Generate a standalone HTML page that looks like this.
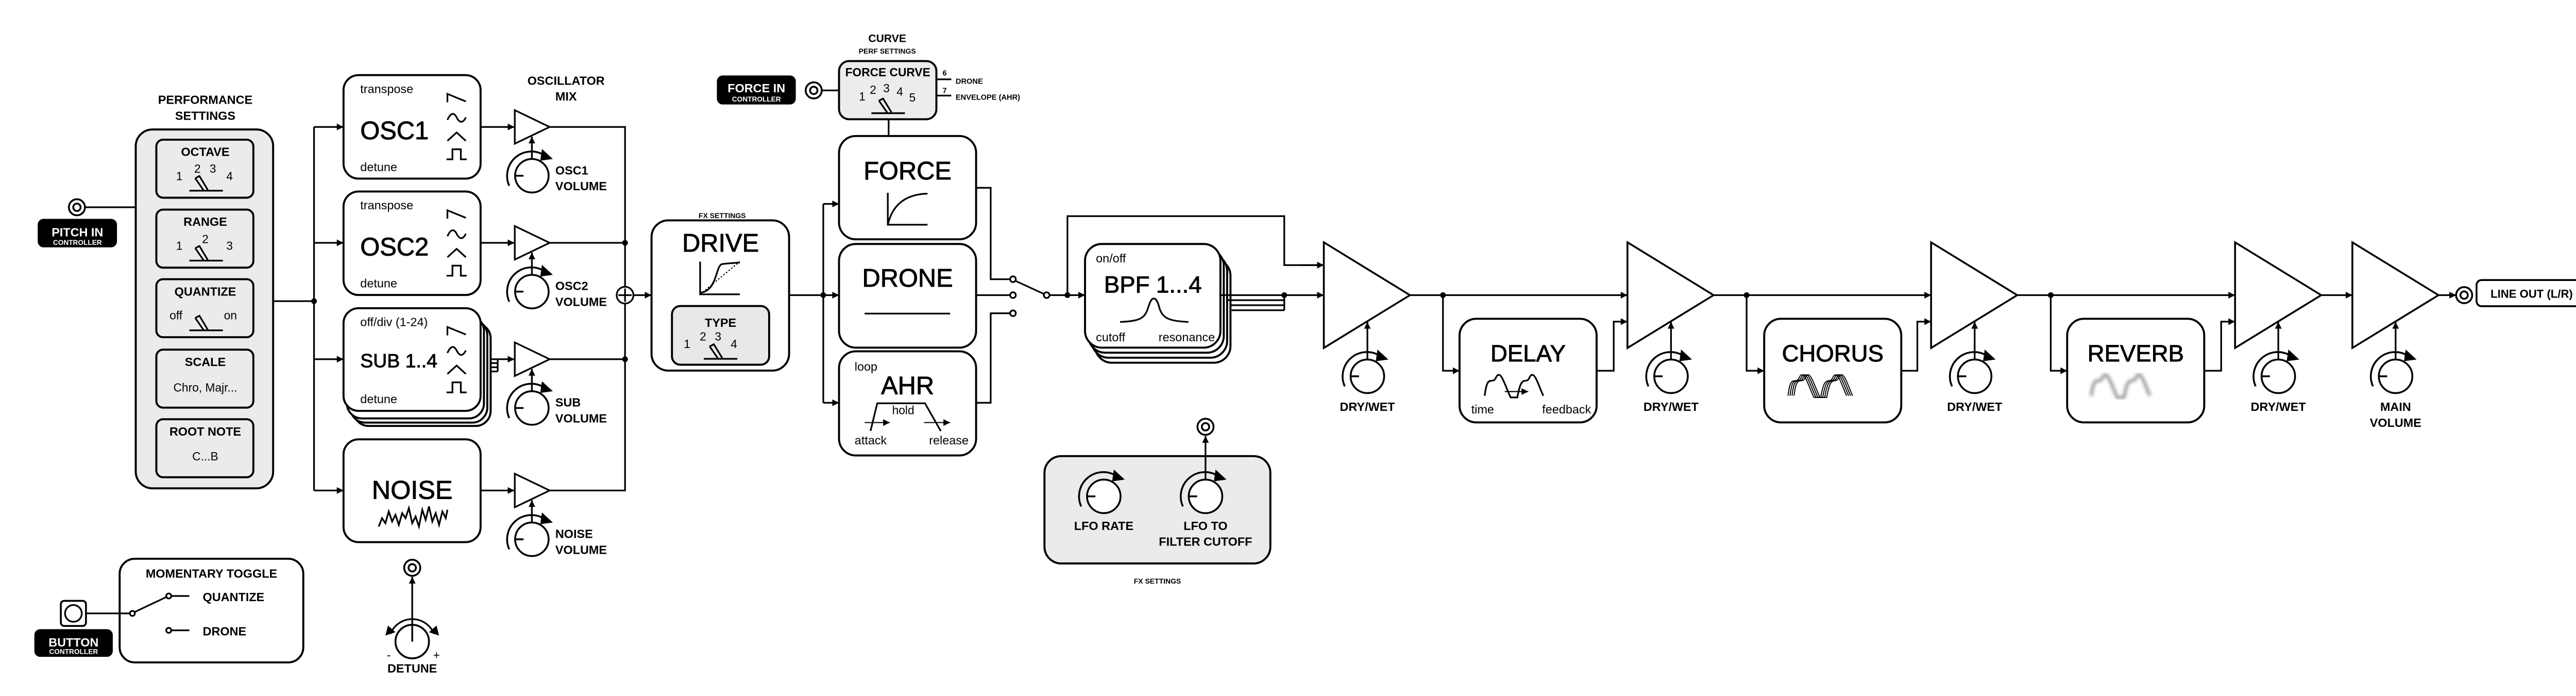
<!DOCTYPE html>
<html><head><meta charset="utf-8"><style>
html,body{margin:0;padding:0;background:#fff;}
svg{display:block;}
text{font-family:"Liberation Sans","DejaVu Sans",sans-serif;fill:#000;}
.b{font-weight:bold;}
.t{stroke:#000;stroke-width:0.3;}
</style></head><body>
<svg xmlns="http://www.w3.org/2000/svg" xmlns:xlink="http://www.w3.org/1999/xlink" width="5100" height="1350" viewBox="0 0 1568 415.05">
<defs>
<marker id="a" viewBox="0 0 10 10" refX="10" refY="5" markerWidth="4.5" markerHeight="4" markerUnits="userSpaceOnUse" orient="auto"><path d="M0,0 L10,5 L0,10 z" fill="#000"/></marker>
<g id="knob" fill="none" stroke="#000" stroke-width="1.1">
<circle r="10" fill="#fff"/>
<path d="M-10,0 H-5"/>
<path d="M-13.5,6 A14.5,14.5 0 0 1 7,-12.5"/>
<polygon points="6,-16 12.5,-10 5,-9" fill="#000" stroke="none"/>
</g>
<g id="jack" fill="#fff" stroke="#000" stroke-width="1.1"><circle r="4.8"/><circle r="2.2"/></g>
<filter id="bl"><feGaussianBlur stdDeviation="1"/></filter>
</defs>

<g fill="none" stroke="#000" stroke-width="1">

<rect x="81" y="77.2" width="82" height="214" rx="10" fill="#ebebeb" stroke-width="1.2"/>
<rect x="93.3" y="83.3" width="57.9" height="34.6" rx="4" fill="#ebebeb" stroke-width="1.2"/>
<rect x="93.3" y="125" width="57.9" height="34.6" rx="4" fill="#ebebeb" stroke-width="1.2"/>
<rect x="93.3" y="166.5" width="57.9" height="34.6" rx="4" fill="#ebebeb" stroke-width="1.2"/>
<rect x="93.3" y="208.5" width="57.9" height="34.6" rx="4" fill="#ebebeb" stroke-width="1.2"/>
<rect x="93.3" y="250" width="57.9" height="34.6" rx="4" fill="#ebebeb" stroke-width="1.2"/>
<path d="M113,113.7 H133 M116.5,106.3 L119,105 L124,113.2 M116.5,106.3 L121.5,113.5"/>
<path d="M113,155.4 H133 M116.5,148 L119,146.7 L124,155 M116.5,148 L121.5,155.2"/>
<path d="M113,197 H133 M116.5,189.6 L119,188.3 L124,196.6 M116.5,189.6 L121.5,196.8"/>
<path d="M50.7,123.6 H81"/>
<use xlink:href="#jack" x="45.9" y="123.6"/>
<rect x="23" y="131" width="46.3" height="16" rx="3" fill="#000"/>
<path d="M163,179.6 H187.4 M187.4,75.7 V292.5"/>
<path d="M187.4,75.7 H205" marker-end="url(#a)"/>
<path d="M187.4,144.8 H205" marker-end="url(#a)"/>
<path d="M187.4,214.2 H205" marker-end="url(#a)"/>
<path d="M187.4,292.5 H205" marker-end="url(#a)"/>
<circle cx="187.4" cy="179.6" r="1.2" fill="#000"/>

<rect x="205" y="44.8" width="81.8" height="61.7" rx="9" fill="#fff" stroke-width="1.2"/>
<rect x="205" y="114.2" width="81.8" height="61.7" rx="9" fill="#fff" stroke-width="1.2"/>
<rect x="211" y="192.8" width="81.8" height="61.2" rx="9" fill="#fff" stroke-width="1.2"/>
<rect x="209" y="190.8" width="81.8" height="61.2" rx="9" fill="#fff" stroke-width="1.2"/>
<rect x="207" y="188.3" width="81.8" height="61.2" rx="9" fill="#fff" stroke-width="1.2"/>
<rect x="205" y="183.8" width="81.8" height="61.2" rx="9" fill="#fff" stroke-width="1.2"/>
<rect x="205" y="262" width="81.8" height="61.3" rx="9" fill="#fff" stroke-width="1.2"/>
<g id="wf">
<path d="M267,61 V56 L278,60.5"/>
<path d="M267,71.5 C269,67 271,67 272.5,70 S276,74 278,70"/>
<path d="M267,84 L272.5,79 L278,84"/>
<path d="M266.5,95 H270 V89 H275 V95 H278.5"/>
</g>
<use xlink:href="#wf" y="69.4"/>
<use xlink:href="#wf" y="139"/>
<polyline points="226,314 228,309 230,312 232,305 234,311 236,307 238,313 240,306 242,309 244,303 246,312 248,308 250,314 252,304 254,310 256,302 258,311 260,306 262,313 264,305 266,309 267,304"/>

<path d="M286.8,75.7 H307" marker-end="url(#a)"/>
<path d="M286.8,144.8 H307" marker-end="url(#a)"/>
<path d="M292.8,214.2 H307" marker-end="url(#a)"/>
<path d="M292.8,216.5 H297 M292.8,219 H297 M292.8,221.5 H297 M297,214.2 V221.5"/>
<path d="M286.8,292.5 H307" marker-end="url(#a)"/>
<polygon points="307.2,65.7 307.2,85.7 328,75.7" fill="#fff"/>
<polygon points="307.2,134.8 307.2,154.8 328,144.8" fill="#fff"/>
<polygon points="307.2,204.2 307.2,224.2 328,214.2" fill="#fff"/>
<polygon points="307.2,282.5 307.2,302.5 328,292.5" fill="#fff"/>
<path d="M317.4,94.8 V81.5" marker-end="url(#a)"/>
<path d="M317.4,163.9 V150.6" marker-end="url(#a)"/>
<path d="M317.4,233.3 V220" marker-end="url(#a)"/>
<path d="M317.4,311.6 V298.3" marker-end="url(#a)"/>
<path d="M328,75.7 H373 V292.5 H328 M328,144.8 H373 M328,214.2 H373"/>
<circle cx="373" cy="144.8" r="1.2" fill="#000"/>
<circle cx="373" cy="214.2" r="1.2" fill="#000"/>
<circle cx="373" cy="176" r="5" fill="#fff"/>
<path d="M373,172 V180 M369,176 H377"/>
<path d="M378,176 H388.8" marker-end="url(#a)"/>

<rect x="71.4" y="333.2" width="109.6" height="61.8" rx="9" stroke-width="1.2"/>
<rect x="36.3" y="358.3" width="15" height="15" rx="2" fill="#fff" stroke-width="1.1"/>
<circle cx="43.8" cy="365.8" r="5"/>
<path d="M51.3,365.8 H77.5 M80.3,365 L99.3,356"/>
<circle cx="79" cy="365.8" r="1.5" fill="#fff"/>
<circle cx="100.7" cy="355.4" r="1.5" fill="#fff"/>
<circle cx="100.7" cy="375.9" r="1.5" fill="#fff"/>
<path d="M102.2,355.4 H113 M102.2,375.9 H113"/>
<rect x="21" y="375.7" width="45.8" height="15.5" rx="3" fill="#000"/>

<use xlink:href="#jack" x="246" y="338.6"/>
<path d="M246,382.6 V344" marker-end="url(#a)"/>
<circle cx="246" cy="382.6" r="10" fill="none" stroke-width="1.1"/>
<path d="M246,382.6 V372.6 M233,378 A14,14 0 0 1 259,378"/>
<polygon points="230,379 236,377 231.5,373" fill="#000" stroke="none"/>
<polygon points="262,379 256,377 260.5,373" fill="#000" stroke="none"/>

<rect x="388.8" y="131.4" width="82.1" height="89.6" rx="10" stroke-width="1.2"/>
<path d="M417.8,156 V175.5 H441.5"/>
<path d="M417.8,174.5 C428,174 427,158 431,157.5 C434,157 437,157 441.5,156.5"/>
<path d="M417.8,175.5 L441.5,156" stroke-dasharray="1,1" stroke-width="0.6"/>
<rect x="401" y="182.5" width="58" height="35" rx="5" fill="#e8e8e8" stroke-width="1.2"/>
<path d="M420,214 H440 M423.5,206.6 L426,205.3 L431,213.5 M423.5,206.6 L428.5,213.8"/>

<rect x="500.7" y="36.4" width="58.1" height="34.7" rx="6" fill="#ececec" stroke-width="1.2"/>
<path d="M520,67.5 H540 M524.5,60 L527,58.8 L532,67 M524.5,60 L529.5,67.2"/>
<path d="M558.8,47.3 H567.7 M558.8,57 H567.7"/>
<path d="M530.3,71.1 V81.1"/>
<path d="M490.4,53.9 H500.7"/>
<use xlink:href="#jack" x="485.6" y="53.9"/>
<rect x="428.3" y="45.5" width="46.1" height="16.3" rx="3" fill="#000"/>

<path d="M470.9,176 H500.7" marker-end="url(#a)"/>
<circle cx="491.3" cy="176" r="1.2" fill="#000"/>
<path d="M491.3,121.6 V240.2"/>
<path d="M491.3,121.6 H500.7" marker-end="url(#a)"/>
<path d="M491.3,240.2 H500.7" marker-end="url(#a)"/>
<rect x="500.7" y="81.1" width="81.8" height="61.6" rx="10" fill="#fff" stroke-width="1.2"/>
<rect x="500.7" y="145.5" width="81.8" height="61.8" rx="10" fill="#fff" stroke-width="1.2"/>
<rect x="500.7" y="209.5" width="81.8" height="62.1" rx="10" fill="#fff" stroke-width="1.2"/>
<path d="M529.8,115 V134 H553.5 M529.8,134 Q534,116 553.5,115.5"/>
<path d="M516,187 H567"/>
<path d="M519.5,257 L523.5,240.5 H552 L561.4,257"/>
<path d="M516,252 H531" marker-end="url(#a)" stroke-width="0.6"/>
<path d="M551.4,252 H567" marker-end="url(#a)" stroke-width="0.6"/>

<path d="M582.5,112 H591.2 V166.5 H602.8 M582.5,176 H602.8 M582.5,240.2 H591.2 V186.8 H602.8"/>
<circle cx="604.5" cy="166.5" r="1.7" fill="#fff"/>
<circle cx="604.5" cy="176" r="1.7" fill="#fff"/>
<circle cx="604.5" cy="186.8" r="1.7" fill="#fff"/>
<path d="M623,175.3 L606,167.5"/>
<circle cx="624.6" cy="176" r="1.7" fill="#fff"/>
<path d="M626.3,176 H647.5" marker-end="url(#a)"/>
<circle cx="637" cy="176" r="1.2" fill="#000"/>
<path d="M637,176 V128.9 H766.4 V158.1 H790" />
<path d="M775,158.1 H790" marker-end="url(#a)"/>

<rect x="653.5" y="154.5" width="80.8" height="61.8" rx="10" fill="#fff" stroke-width="1.2"/>
<rect x="651.5" y="151.5" width="80.8" height="61.8" rx="10" fill="#fff" stroke-width="1.2"/>
<rect x="649.5" y="148.5" width="80.8" height="61.8" rx="10" fill="#fff" stroke-width="1.2"/>
<rect x="647.5" y="145.5" width="80.8" height="61.8" rx="10" fill="#fff" stroke-width="1.2"/>
<path d="M668.4,192 C680,191.5 683,190 685,184 C686.5,179 687.5,178 688.5,178 C690,178 691,180 692,184 C694,190 698,191.5 709.2,192"/>
<path d="M728.3,176 H766.4 M732,179 H766.4 M734,182 H766.4 M735,185 H766.4 M766.4,176 V185"/>
<circle cx="766.4" cy="176" r="1.2" fill="#000"/>
<path d="M766.4,176 H790" marker-end="url(#a)"/>

<rect x="623.3" y="272" width="134.8" height="64" rx="10" fill="#ebebeb" stroke-width="1.2"/>
<use xlink:href="#jack" x="719.4" y="254.5"/>
<path d="M719.4,286 V260" marker-end="url(#a)"/>

<polygon points="790,144.5 790,207.5 841.4,176" fill="#fff" stroke-width="1.1"/>
<polygon points="971.2,144.5 971.2,207.5 1022.6,176" fill="#fff" stroke-width="1.1"/>
<polygon points="1152.4,144.5 1152.4,207.5 1203.8,176" fill="#fff" stroke-width="1.1"/>
<polygon points="1333.8,144.5 1333.8,207.5 1385.2,176" fill="#fff" stroke-width="1.1"/>
<polygon points="1403.8,144.5 1403.8,207.5 1455.2,176" fill="#fff" stroke-width="1.1"/>
<path d="M816,214.4 V192" marker-end="url(#a)"/>
<path d="M997.2,214.4 V192" marker-end="url(#a)"/>
<path d="M1178.4,214.4 V192" marker-end="url(#a)"/>
<path d="M1359.6,214.4 V192" marker-end="url(#a)"/>
<path d="M1429.6,214.4 V192" marker-end="url(#a)"/>
<path d="M841.4,176 H971.2" marker-end="url(#a)"/>
<path d="M1022.6,176 H1152.4" marker-end="url(#a)"/>
<path d="M1203.8,176 H1333.8" marker-end="url(#a)"/>
<path d="M1385.2,176 H1403.8" marker-end="url(#a)"/>
<path d="M1455.2,176 H1465.7" marker-end="url(#a)"/>
<use xlink:href="#jack" x="1470.5" y="176"/>
<rect x="1477.9" y="167" width="65.9" height="15.6" rx="3" fill="#fff" stroke-width="1.1"/>

<circle cx="861.1" cy="176" r="1.2" fill="#000"/>
<path d="M861.1,176 V221.1 H871" marker-end="url(#a)"/>
<rect x="871" y="190.1" width="81.8" height="61.8" rx="10" stroke-width="1.2"/>
<path d="M952.8,221.1 H963 V191.8 H971.2" marker-end="url(#a)"/>
<circle cx="1042.3" cy="176" r="1.2" fill="#000"/>
<path d="M1042.3,176 V221.1 H1052.8" marker-end="url(#a)"/>
<rect x="1052.8" y="190.1" width="81.8" height="61.8" rx="10" stroke-width="1.2"/>
<path d="M1134.6,221.1 H1144.2 V191.8 H1152.4" marker-end="url(#a)"/>
<circle cx="1223.8" cy="176" r="1.2" fill="#000"/>
<path d="M1223.8,176 V221.1 H1233.6" marker-end="url(#a)"/>
<rect x="1233.6" y="190.1" width="81.8" height="61.8" rx="10" stroke-width="1.2"/>
<path d="M1315.4,221.1 H1325.5 V191.8 H1333.8" marker-end="url(#a)"/>

<path d="M886,236 C887,228 888,227 890.5,227 C893,227 892.5,223.5 894.5,223.5 C896.5,223.5 899,232 901.5,237 L905.5,237 C907,229 908,227 910.5,227 C913,227 912.5,223.5 914.5,223.5 C916.5,223.5 919,232 921,236"/>
<path d="M898,233.5 H912" marker-end="url(#a)" stroke-width="0.7"/>
<g id="ch" stroke-width="0.6"><path d="M1067,236 C1068,228 1069,227 1071.5,227 C1074,227 1073.5,223.5 1075.5,223.5 C1077.5,223.5 1080,232 1082.5,237 L1086.5,237 C1088,229 1089,227 1091.5,227 C1094,227 1093.5,223.5 1095.5,223.5 C1097.5,223.5 1100,232 1102,236"/></g>
<use xlink:href="#ch" x="1.2"/><use xlink:href="#ch" x="2.4"/><use xlink:href="#ch" x="3.6"/>
<path d="M1248,236 C1249,228 1250,227 1252.5,227 C1255,227 1254.5,223.5 1256.5,223.5 C1258.5,223.5 1261,232 1263.5,237 L1267.5,237 C1269,229 1270,227 1272.5,227 C1275,227 1274.5,223.5 1276.5,223.5 C1278.5,223.5 1281,232 1283,236" stroke="#999" stroke-width="1.8" filter="url(#bl)"/>
</g>

<use xlink:href="#knob" x="317.4" y="104.8"/>
<use xlink:href="#knob" x="317.4" y="173.9"/>
<use xlink:href="#knob" x="317.4" y="243.3"/>
<use xlink:href="#knob" x="317.4" y="321.6"/>
<use xlink:href="#knob" x="658.7" y="296"/>
<use xlink:href="#knob" x="719.4" y="296"/>
<use xlink:href="#knob" x="816" y="224.4"/>
<use xlink:href="#knob" x="997.2" y="224.4"/>
<use xlink:href="#knob" x="1178.4" y="224.4"/>
<use xlink:href="#knob" x="1359.6" y="224.4"/>
<use xlink:href="#knob" x="1429.6" y="224.4"/>

<g class="b" font-size="7.2" text-anchor="middle">
<text x="122.5" y="62">PERFORMANCE</text>
<text x="122.5" y="71.5">SETTINGS</text>
<text x="122.5" y="93">OCTAVE</text>
<text x="122.5" y="134.7">RANGE</text>
<text x="122.5" y="176.3">QUANTIZE</text>
<text x="122.5" y="218.3">SCALE</text>
<text x="122.5" y="259.8">ROOT NOTE</text>
<text x="337.8" y="50.5">OSCILLATOR</text>
<text x="337.8" y="60">MIX</text>
<text x="126.2" y="344.5">MOMENTARY TOGGLE</text>
<text x="246" y="401">DETUNE</text>
<text x="529.8" y="45.5" font-size="7">FORCE CURVE</text>
<text x="430" y="195">TYPE</text>
<text x="529.5" y="25" font-size="6.5">CURVE</text>
<text x="529.5" y="32" font-size="4.3">PERF SETTINGS</text>
<text x="431" y="130" font-size="4.3">FX SETTINGS</text>
<text x="690.7" y="348" font-size="4.3">FX SETTINGS</text>
<text x="658.7" y="316">LFO RATE</text>
<text x="719.4" y="316">LFO TO</text>
<text x="719.4" y="325.5">FILTER CUTOFF</text>
<text x="816" y="245">DRY/WET</text>
<text x="997.2" y="245">DRY/WET</text>
<text x="1178.4" y="245">DRY/WET</text>
<text x="1359.6" y="245">DRY/WET</text>
<text x="1429.6" y="245">MAIN</text>
<text x="1429.6" y="254.5">VOLUME</text>
<text x="1510.8" y="177.5" font-size="6.8">LINE OUT (L/R)</text>
<text x="46.2" y="141" style="fill:#fff">PITCH IN</text>
<text x="46.2" y="146" font-size="4.2" style="fill:#fff">CONTROLLER</text>
<text x="43.9" y="385.5" style="fill:#fff">BUTTON</text>
<text x="43.9" y="390" font-size="4.2" style="fill:#fff">CONTROLLER</text>
<text x="451.4" y="55" style="fill:#fff">FORCE IN</text>
<text x="451.4" y="60.5" font-size="4.2" style="fill:#fff">CONTROLLER</text>
</g>
<g class="b" font-size="7.2">
<text x="331.4" y="104">OSC1</text><text x="331.4" y="113.5">VOLUME</text>
<text x="331.4" y="173">OSC2</text><text x="331.4" y="182.5">VOLUME</text>
<text x="331.4" y="242.5">SUB</text><text x="331.4" y="252">VOLUME</text>
<text x="331.4" y="320.8">NOISE</text><text x="331.4" y="330.3">VOLUME</text>
<text x="121" y="358.5">QUANTIZE</text>
<text x="121" y="379">DRONE</text>
<text x="562.5" y="45" font-size="4.5">6</text>
<text x="562.5" y="55.5" font-size="4.5">7</text>
<text x="570.3" y="50" font-size="4.5">DRONE</text>
<text x="570.3" y="59.5" font-size="4.5">ENVELOPE (AHR)</text>
</g>
<g font-size="7" text-anchor="middle">
<text x="107" y="107.5">1</text><text x="117.8" y="103">2</text><text x="127" y="103">3</text><text x="137" y="107.5">4</text>
<text x="107" y="149">1</text><text x="122.5" y="145">2</text><text x="137" y="149">3</text>
<text x="105" y="190.5">off</text><text x="137.5" y="190.5">on</text>
<text x="122.5" y="233.5">Chro, Majr...</text>
<text x="122.5" y="274.5">C...B</text>
<text x="410" y="207.5">1</text><text x="419.5" y="203">2</text><text x="428.5" y="203">3</text><text x="438" y="207.5">4</text>
<text x="514.5" y="60">1</text><text x="521" y="56">2</text><text x="529" y="55">3</text><text x="537" y="57">4</text><text x="544.5" y="60.5">5</text>
<text x="539" y="247">hold</text>
<text class="t" x="688" y="174.5" font-size="14">BPF 1...4</text>
<text class="t" x="541.6" y="107" font-size="15">FORCE</text>
<text class="t" x="541.6" y="171" font-size="15">DRONE</text>
<text class="t" x="541.6" y="235" font-size="15">AHR</text>
<text class="t" x="430" y="150" font-size="15">DRIVE</text>
<text class="t" x="246" y="297.5" font-size="15.5">NOISE</text>
<text class="t" x="911.9" y="215.5" font-size="14">DELAY</text>
<text class="t" x="1093.7" y="215.5" font-size="14">CHORUS</text>
<text class="t" x="1274.5" y="215.5" font-size="14">REVERB</text>
<text x="232" y="393">-</text><text x="260.5" y="393">+</text>
</g>
<g font-size="7.2">
<text x="215" y="55.5">transpose</text>
<text class="t" x="215" y="83" font-size="15">OSC1</text>
<text x="215" y="102">detune</text>
<text x="215" y="124.9">transpose</text>
<text class="t" x="215" y="152.4" font-size="15">OSC2</text>
<text x="215" y="171.4">detune</text>
<text x="215" y="194.5">off/div (1-24)</text>
<text class="t" x="215" y="219" font-size="11.5">SUB 1..4</text>
<text x="215" y="240.5">detune</text>
<text x="510" y="221">loop</text>
<text x="510" y="265">attack</text>
<text x="578" y="265" text-anchor="end">release</text>
<text x="654" y="156.5">on/off</text>
<text x="654" y="203.5">cutoff</text>
<text x="725" y="203.5" text-anchor="end">resonance</text>
<text x="878" y="246.5">time</text>
<text x="949.5" y="246.5" text-anchor="end">feedback</text>
</g>
</svg>
</body></html>
